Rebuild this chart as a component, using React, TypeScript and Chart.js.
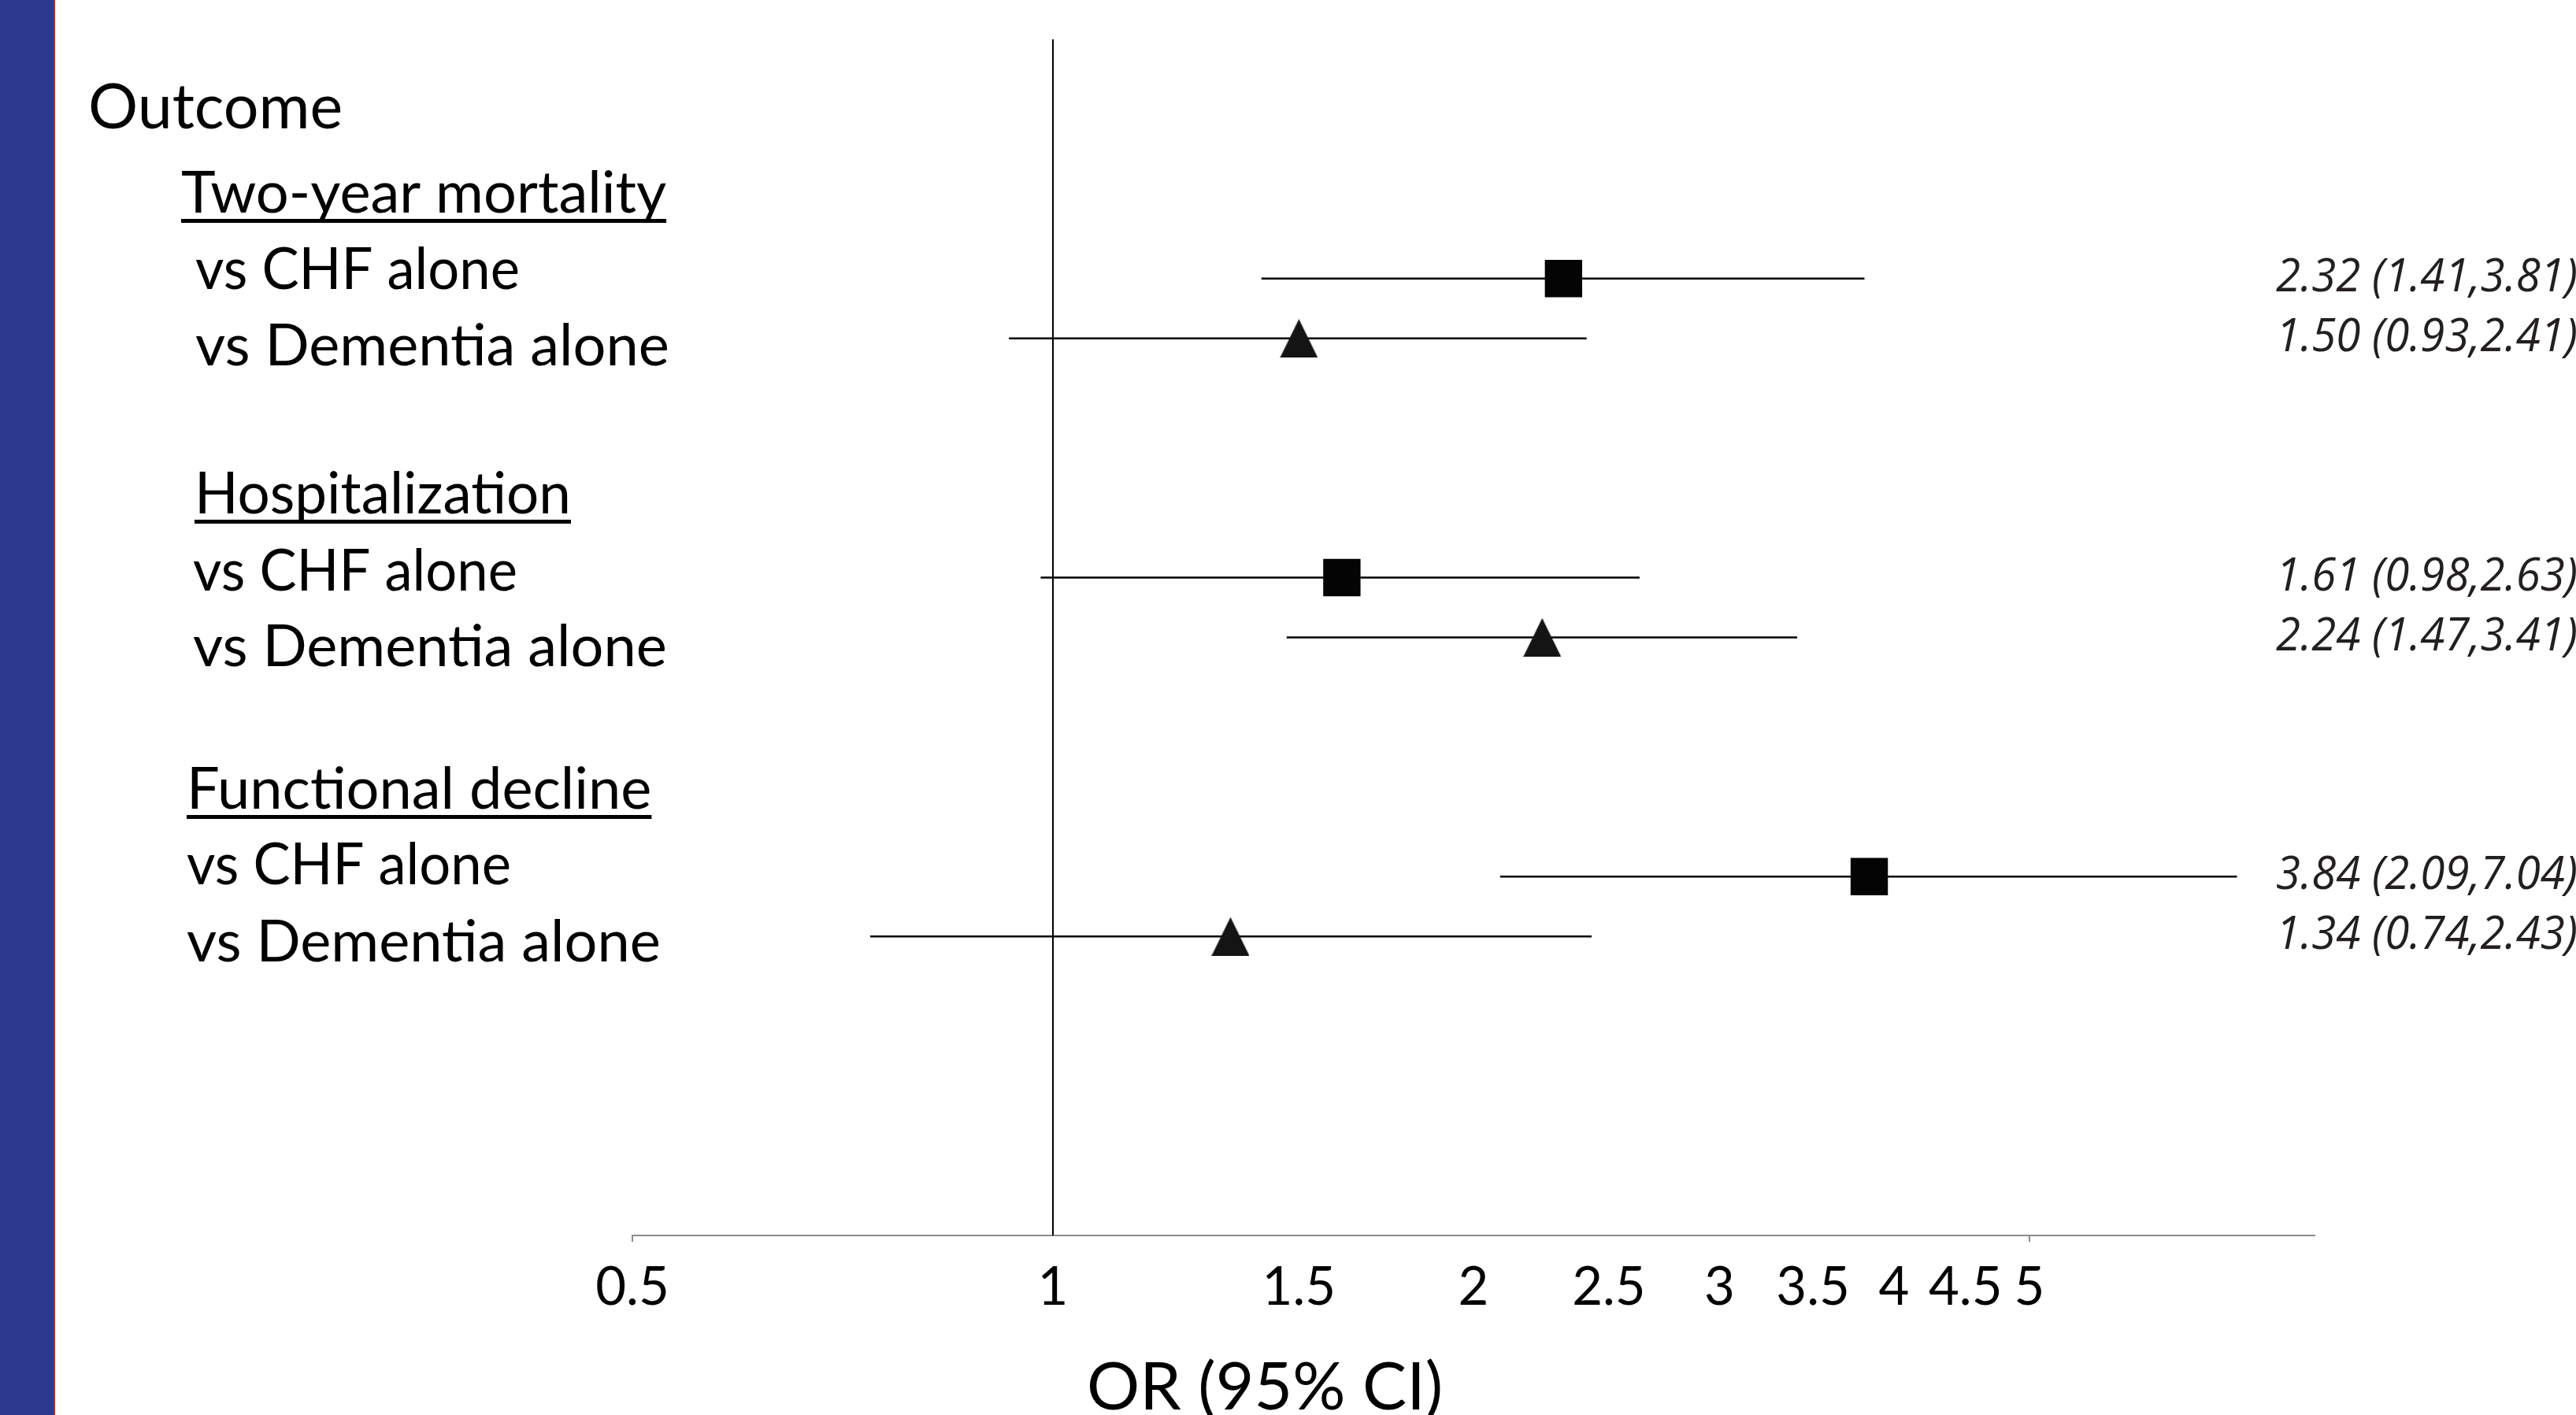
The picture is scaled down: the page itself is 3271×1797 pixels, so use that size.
import React, { useEffect, useRef } from "react";
import { Chart, registerables } from "chart.js";

Chart.register(...registerables);

// ---- data ----
const headerLabel = "Outcome";
const outcomes = ["Two-year mortality", "Hospitalization", "Functional decline"];
const comparisons = ["vs CHF alone", "vs Dementia alone"];
const rowComparison = [0, 1, 0, 1, 0, 1];
const rowPositions = [16, 15, 11, 10, 6, 5];
const oddsRatios = [2.32, 1.5, 1.61, 2.24, 3.84, 1.34];
const lowerCI = [1.41, 0.93, 0.98, 1.47, 2.09, 0.74];
const upperCI = [3.81, 2.41, 2.63, 3.41, 7.04, 2.43];
const tickValues = [0.5, 1, 1.5, 2, 2.5, 3, 3.5, 4, 4.5, 5];
const axisTitle = "OR (95% CI)";

// ---- layout / style ----
const W = 3271;
const H = 1797;
const SANS = "Lato, 'Open Sans', sans-serif";
const leftBlock = [
  { text: headerLabel, x: 112, y: 163, underline: false, size: 79, maxW: 0 },
  { text: outcomes[0], x: 230, y: 270, underline: true, size: 74, maxW: 0 },
  { text: comparisons[0], x: 248, y: 367, underline: false, size: 74, maxW: 412 },
  { text: comparisons[1], x: 248, y: 464, underline: false, size: 74, maxW: 0 },
  { text: outcomes[1], x: 247, y: 652, underline: true, size: 74, maxW: 478 },
  { text: comparisons[0], x: 245, y: 750, underline: false, size: 74, maxW: 412 },
  { text: comparisons[1], x: 245, y: 846, underline: false, size: 74, maxW: 0 },
  { text: outcomes[2], x: 237, y: 1027, underline: true, size: 74, maxW: 0 },
  { text: comparisons[0], x: 237, y: 1123, underline: false, size: 74, maxW: 412 },
  { text: comparisons[1], x: 237, y: 1221, underline: false, size: 74, maxW: 0 },
];

function makeTriangle(): HTMLCanvasElement {
  const c = document.createElement("canvas");
  c.width = 48;
  c.height = 49;
  const g = c.getContext("2d")!;
  g.fillStyle = "#141414";
  g.beginPath();
  g.moveTo(24, 0);
  g.lineTo(48, 49);
  g.lineTo(0, 49);
  g.closePath();
  g.fill();
  return c;
}

const decorPlugin = {
  id: "decor",
  beforeDraw(chart: any) {
    const ctx = chart.ctx;
    ctx.save();
    ctx.fillStyle = "#ffffff";
    ctx.fillRect(0, 0, chart.width, chart.height);
    ctx.fillStyle = "#2b3a8f";
    ctx.fillRect(0, 0, 68, chart.height);
    ctx.fillStyle = "#9e2a30";
    ctx.fillRect(68, 0, 2, chart.height);
    ctx.restore();
  },
  afterDraw(chart: any) {
    const ctx = chart.ctx;
    const yScale = chart.scales.y;
    ctx.save();
    // left text block
    ctx.fillStyle = "#000";
    ctx.textAlign = "left";
    ctx.textBaseline = "alphabetic";
    leftBlock.forEach((t) => {
      ctx.font = `${t.size}px ${SANS}`;
      const natural = ctx.measureText(t.text).width;
      const w = t.maxW ? Math.min(natural, t.maxW) : natural;
      if (t.maxW) ctx.fillText(t.text, t.x, t.y, t.maxW);
      else ctx.fillText(t.text, t.x, t.y);
      if (t.underline) {
        ctx.fillRect(t.x, t.y + 8, w, 5);
      }
    });
    // right value labels
    ctx.font = `italic 59px 'Open Sans', sans-serif`;
    ctx.fillStyle = "#231f20";
    ctx.textAlign = "right";
    oddsRatios.forEach((v, i) => {
      const label = `${v.toFixed(2)} (${lowerCI[i].toFixed(2)},${upperCI[i].toFixed(2)})`;
      const y = yScale.getPixelForValue(rowPositions[i]) + 16;
      ctx.fillText(label, 3273, y, 383);
    });
    // axis title
    ctx.font = `84px ${SANS}`;
    ctx.fillStyle = "#000";
    ctx.textAlign = "left";
    ctx.fillText(axisTitle, 1380, 1790);
    ctx.restore();
  },
};

export default function App() {
  const ref = useRef<HTMLCanvasElement | null>(null);

  useEffect(() => {
    if (!ref.current) return;
    const triangle = makeTriangle();
    const ciSets = oddsRatios.map((_, i) => ({
      type: "line" as const,
      label: `ci-${i}`,
      data: [
        { x: lowerCI[i], y: rowPositions[i] },
        { x: upperCI[i], y: rowPositions[i] },
      ],
      borderColor: "#000",
      borderWidth: 2.5,
      pointRadius: 0,
      showLine: true,
      order: 2,
    }));
    const markerSets = comparisons.map((name, c) => ({
      type: "scatter" as const,
      label: name,
      data: oddsRatios
        .map((v, i) => ({ x: v, y: rowPositions[i], c: rowComparison[i] }))
        .filter((p) => p.c === c)
        .map((p) => ({ x: p.x, y: p.y })),
      pointStyle: c === 0 ? "rect" : triangle,
      pointRadius: c === 0 ? 33.5 : 24,
      pointBackgroundColor: c === 0 ? "#040404" : "#141414",
      pointBorderWidth: 0,
      borderWidth: 0,
      order: 0,
    }));
    const refLine = {
      type: "line" as const,
      label: "null-line",
      data: [
        { x: 1, y: 0 },
        { x: 1, y: 20 },
      ],
      borderColor: "#000",
      borderWidth: 2,
      pointRadius: 0,
      showLine: true,
      order: 3,
    };

    const chart = new Chart(ref.current, {
      type: "scatter",
      data: { datasets: [...markerSets, ...ciSets, refLine] as any },
      options: {
        animation: false,
        responsive: false,
        maintainAspectRatio: false,
        devicePixelRatio: 1,
        layout: { padding: { left: 803, right: 332, top: 50, bottom: 0 } },
        plugins: {
          legend: { display: false },
          tooltip: { enabled: false },
        },
        scales: {
          x: {
            type: "logarithmic",
            min: 0.5,
            max: 8,
            position: "bottom",
            afterBuildTicks: (axis: any) => {
              axis.ticks = tickValues.map((v) => ({ value: v }));
            },
            afterFit: (axis: any) => {
              axis.height = H - 1569;
            },
            ticks: {
              autoSkip: false,
              maxRotation: 0,
              minRotation: 0,
              padding: 18,
              color: "#000",
              font: { family: SANS, size: 67 },
              callback: (v: any) => String(v),
            },
            grid: {
              drawOnChartArea: false,
              drawTicks: true,
              tickLength: 8,
              lineWidth: 2,
              color: (c: any) =>
                c.tick && (c.tick.value === 0.5 || c.tick.value === 5)
                  ? "#8c8c8c"
                  : "rgba(0,0,0,0)",
            },
            border: { display: true, color: "#8c8c8c", width: 2 },
          },
          y: { type: "linear", min: 0, max: 20, display: false },
        },
      } as any,
      plugins: [decorPlugin],
    });
    return () => chart.destroy();
  }, []);

  return (
    <div style={{ position: "fixed", left: 0, top: 0, width: W, height: H, overflow: "hidden", background: "#fff" }}>
      <canvas ref={ref} width={W} height={H} style={{ width: W, height: H, display: "block" }} />
    </div>
  );
}
